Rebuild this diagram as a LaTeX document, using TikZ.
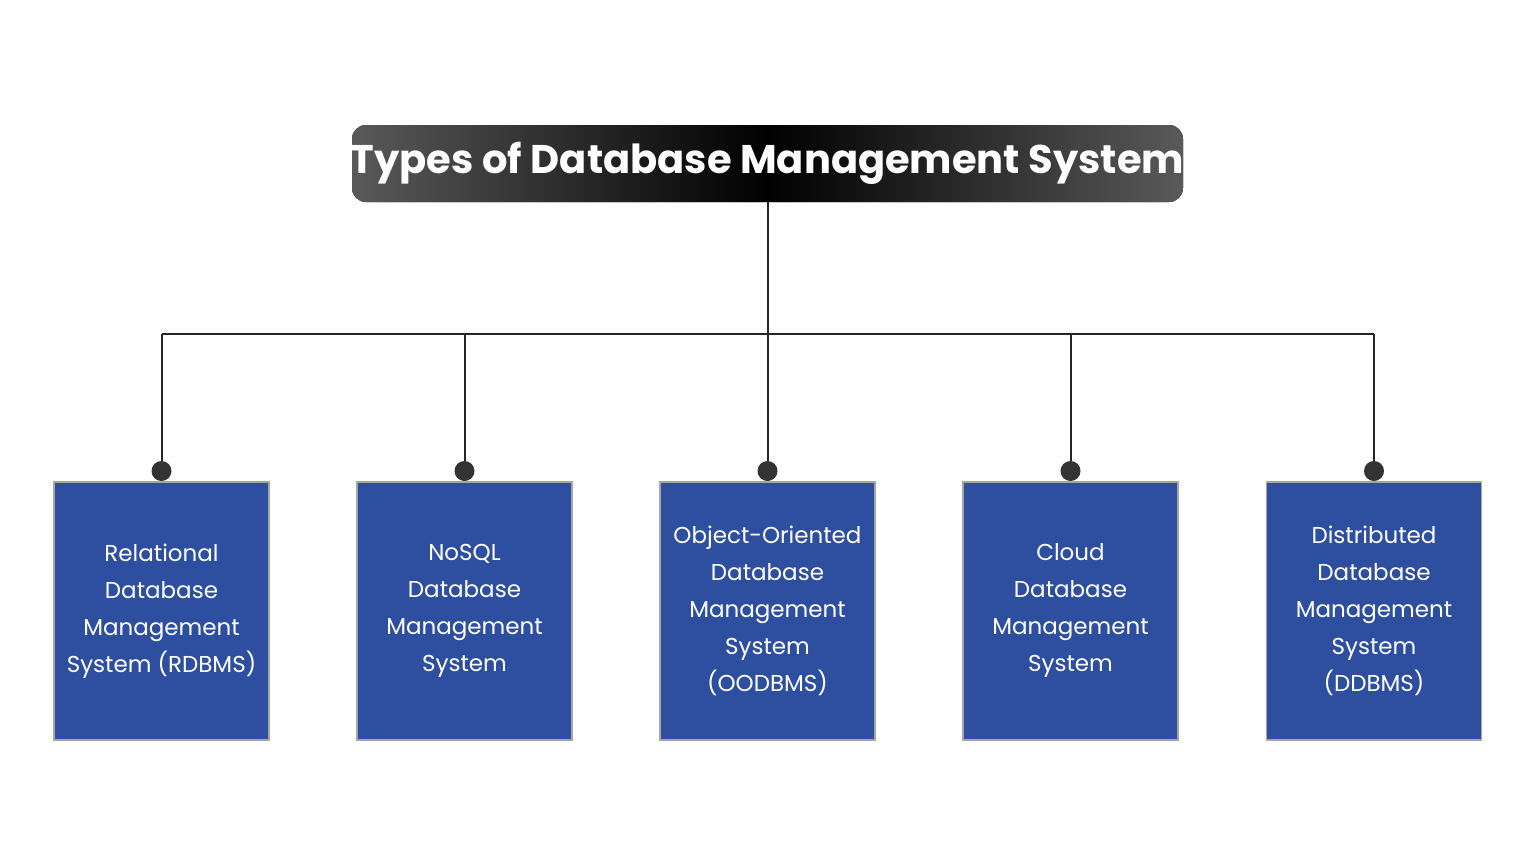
\documentclass[tikz,border=0pt]{standalone}
\usepackage{fontspec}
\setmainfont{Poppins}
\usetikzlibrary{positioning}
\definecolor{boxblue}{HTML}{2E4F9F}
\begin{document}
\begin{tikzpicture}[x=0.5pt,y=-0.5pt,
  catbox/.style={draw=gray!70,line width=0.8pt,fill=boxblue,minimum width=107.5pt,minimum height=129pt,anchor=north,inner sep=0pt,
    text=white,font=\fontsize{11.5}{18.5}\selectfont,align=center},
  dot/.style={circle,fill=black!80,minimum size=10pt,inner sep=0pt},
  conn/.style={line width=1pt,black!85}]
\useasboundingbox (0,0) rectangle (1536,864);
\fill[rounded corners=7pt,left color=gray!70!black,right color=gray!70!black,middle color=black] (352,125) rectangle (1183,202);
\node[text=white,font=\fontsize{20}{24}\bfseries\selectfont] (title) at (767.5,163) {Types of Database Management System};
\coordinate (tb) at (768,202);
\coordinate (bus) at (768,334);
\foreach \n/\x/\t in {a/161.5/{Relational\\Database\\Management\\System (RDBMS)},
  b/464.5/{NoSQL\\Database\\Management\\System},
  c/767.5/{Object-Oriented\\Database\\Management\\System\\(OODBMS)},
  d/1070.5/{Cloud\\Database\\Management\\System},
  e/1374/{Distributed\\Database\\Management\\System\\(DDBMS)}}{
  \node[catbox] (box\n) at (\x,481) {\t};
  \node[dot] (dot\n) at (\x,471) {};
  \coordinate (bus\n) at (\x,334);
}
\draw[conn] (tb) -- (bus);
\draw[conn] (busa) -- (buse);
\foreach \n in {a,b,c,d,e}{\draw[conn] (bus\n) -- (dot\n);}
\end{tikzpicture}
\end{document}
